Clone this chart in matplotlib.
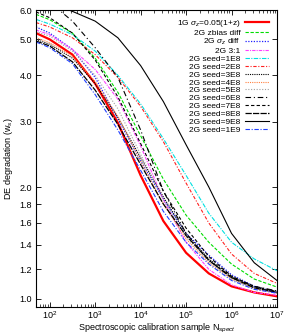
import matplotlib
matplotlib.use("Agg")
import matplotlib.pyplot as plt
from matplotlib.ticker import FixedLocator, FixedFormatter, LogLocator, LogFormatterMathtext, NullFormatter

plt.rcParams["font.family"] = ["Liberation Sans", "DejaVu Sans"]
plt.rcParams["mathtext.fontset"] = "custom"
plt.rcParams["mathtext.rm"] = "Liberation Sans"
plt.rcParams["mathtext.it"] = "Liberation Sans:italic"

# spectroscopic sample size (x) and DE degradation w_s
n_spect = [50, 100, 316, 1000, 3162, 10000, 31623, 100000, 316228, 1000000, 3162278, 10000000]

w_1g = [5.2, 5.0, 4.55, 3.8, 2.98, 2.15, 1.62, 1.33, 1.17, 1.08, 1.04, 1.015]
w_zbias = [5.84, 5.65, 5.2, 4.45, 3.6, 2.75, 2.1, 1.68, 1.42, 1.24, 1.13, 1.075]
w_sigz = [5.4, 5.2, 4.7, 3.95, 3.05, 2.35, 1.86, 1.5, 1.31, 1.16, 1.08, 1.04]
w_31 = [5.3, 5.15, 4.7, 4.15, 3.45, 2.58, 1.85, 1.42, 1.2, 1.09, 1.04, 1.022]
w_1e8 = [5.66, 5.5, 5.15, 4.65, 4.0, 3.35, 2.7, 2.15, 1.7, 1.42, 1.28, 1.19]
w_2e8 = [5.55, 5.4, 5.05, 4.55, 3.95, 3.3, 2.65, 2.05, 1.6, 1.32, 1.17, 1.10]
w_3e8 = [5.0, 4.85, 4.45, 3.8, 3.08, 2.4, 1.88, 1.5, 1.28, 1.15, 1.075, 1.04]
w_4e8 = [5.05, 4.9, 4.5, 3.85, 3.1, 2.35, 1.8, 1.45, 1.25, 1.13, 1.065, 1.035]
w_5e8 = [5.25, 5.1, 4.65, 4.0, 3.25, 2.45, 1.85, 1.47, 1.26, 1.13, 1.065, 1.035]
w_6e8 = [6.7, 6.3, 5.6, 4.75, 3.95, 2.85, 1.95, 1.5, 1.27, 1.14, 1.08, 1.05]
w_7e8 = [5.93, 5.72, 5.2, 4.4, 3.5, 2.62, 1.95, 1.55, 1.3, 1.15, 1.08, 1.045]
w_8e8 = [4.95, 4.8, 4.35, 3.65, 2.95, 2.3, 1.8, 1.48, 1.27, 1.14, 1.07, 1.04]
w_9e8 = [6.6, 6.3, 5.95, 5.6, 5.05, 4.25, 3.4, 2.6, 2.0, 1.5, 1.25, 1.12]
w_1e9 = [4.92, 4.75, 4.3, 3.55, 2.85, 2.22, 1.72, 1.42, 1.24, 1.12, 1.06, 1.035]

labels = ["1G $\\sigma_z$=0.05(1+z)", "2G zbias diff", "2G $\\sigma_z$ diff", "2G 3:1",
          "2G seed=1E8", "2G seed=2E8", "2G seed=3E8", "2G seed=4E8", "2G seed=5E8",
          "2G seed=6E8", "2G seed=7E8", "2G seed=8E8", "2G seed=9E8", "2G seed=1E9"]
series = [w_1g, w_zbias, w_sigz, w_31, w_1e8, w_2e8, w_3e8, w_4e8, w_5e8,
          w_6e8, w_7e8, w_8e8, w_9e8, w_1e9]

styles = [
    ("#ff0000", "-", 1.6),
    ("#00dd00", (0, (3, 1.5)), 0.8),
    ("#2020ff", (0, (1, 1.2)), 0.9),
    ("#ff40ff", (0, (3, 1, 1, 1)), 0.8),
    ("#00e0e0", (0, (4, 1.2, 1, 1.2)), 0.8),
    ("#ff2020", (0, (3, 1.5, 1, 1.5)), 0.8),
    ("#000000", (0, (1, 1)), 0.8),
    ("#ff8040", (0, (1, 1)), 0.8),
    ("#a0a0a0", (0, (1, 1.5)), 0.8),
    ("#000000", (0, (5, 2.5, 1, 2.5)), 0.8),
    ("#000000", (0, (3, 2)), 0.8),
    ("#000000", (0, (5, 1)), 0.9),
    ("#000000", "-", 0.8),
    ("#2040ff", (0, (4, 1.5, 1, 1.5)), 0.8),
]

fig = plt.figure(figsize=(2.91, 3.32), dpi=100)
ax = fig.add_axes([36 / 291, 25 / 332, 241 / 291, 297 / 332])

for w, lab, (c, ls, lw) in zip(series, labels, styles):
    ax.plot(n_spect, w, color=c, linestyle=ls, linewidth=lw, label=lab)

ax.set_xscale("log")
ax.set_yscale("log")
ax.set_xlim(50, 1e7)
ax.set_ylim(0.95, 6.0)

yt = [1.0, 1.2, 1.4, 1.6, 1.8, 2.0, 3.0, 4.0, 5.0, 6.0]
ax.yaxis.set_major_locator(FixedLocator(yt))
ax.yaxis.set_major_formatter(FixedFormatter(["%.1f" % v for v in yt]))
ax.yaxis.set_minor_locator(FixedLocator([]))
ax.yaxis.set_minor_formatter(NullFormatter())
ax.xaxis.set_major_locator(LogLocator(base=10, numticks=10))
ax.xaxis.set_major_formatter(LogFormatterMathtext())
ax.xaxis.set_minor_locator(LogLocator(base=10, subs=range(2, 10), numticks=10))

ax.tick_params(which="both", direction="in", top=True, right=True, labelsize=6.5)
ax.tick_params(axis="x", pad=1.5)
ax.tick_params(axis="y", pad=3)
ax.tick_params(which="major", length=3.5, width=0.6)
ax.tick_params(which="minor", length=2, width=0.5)
for s in ax.spines.values():
    s.set_linewidth(0.8)

ax.set_xlabel("Spectroscopic calibration sample N$_{spect}$", fontsize=6.5, labelpad=0.5)
ax.set_ylabel("DE degradation (w$_s$)", fontsize=6.5, labelpad=3)

ax.legend(loc="upper right", frameon=False, fontsize=6, markerfirst=False,
          handlelength=2.8, labelspacing=0.0, borderaxespad=0.8, handletextpad=0.6,
          borderpad=0.2)

fig.savefig("out.png", dpi=100)
